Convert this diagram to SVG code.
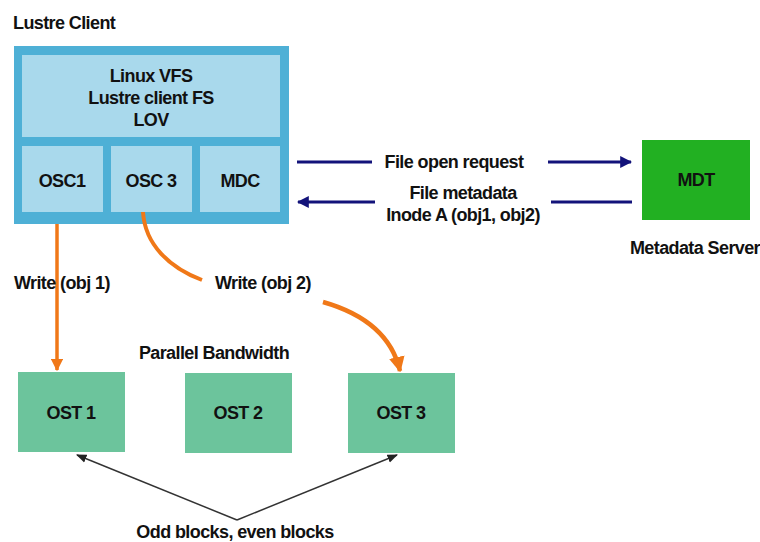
<svg xmlns="http://www.w3.org/2000/svg" width="760" height="542" viewBox="0 0 760 542">
<defs>
<style>
text{font-family:"Liberation Sans",Arial,sans-serif;font-weight:bold;font-size:18px;fill:#111;letter-spacing:-0.6px}
.c{text-anchor:middle}
.inner{fill:#a9d9ec}
.ost{fill:#6cc49c}
</style>
<marker id="navy" viewBox="0 0 10 10" refX="9" refY="5" markerWidth="4" markerHeight="4" orient="auto"><path d="M0,0L10,5L0,10z" fill="#13137a"/></marker>
<marker id="orange" viewBox="0 0 10 10" refX="9" refY="5" markerWidth="3.5" markerHeight="3.5" orient="auto"><path d="M0,0L10,5L0,10z" fill="#f07818"/></marker>
<marker id="black" viewBox="0 0 10 10" refX="9" refY="5" markerWidth="7" markerHeight="7" orient="auto"><path d="M0,1L10,5L0,9z" fill="#222"/></marker>
</defs>
<rect width="760" height="542" fill="#fff"/>
<text x="13" y="29">Lustre Client</text>
<g id="lustre-client">
<rect x="14" y="46" width="275" height="178" fill="#4eb0d6"/>
<rect class="inner" x="22" y="55" width="258" height="82"/>
<text class="c" x="151" y="82">Linux VFS</text>
<text class="c" x="151" y="104">Lustre client FS</text>
<text class="c" x="151" y="126">LOV</text>
</g>
<g id="osc1"><rect class="inner" x="22" y="146" width="81" height="66"/><text class="c" x="62" y="187">OSC1</text></g>
<g id="osc3"><rect class="inner" x="111" y="146" width="81" height="66"/><text class="c" x="151" y="187">OSC 3</text></g>
<g id="mdc"><rect class="inner" x="200" y="146" width="80" height="66"/><text class="c" x="240" y="187">MDC</text></g>
<g id="mdt">
<rect x="642" y="140" width="108" height="80" fill="#22b022"/>
<text class="c" x="696" y="186">MDT</text>
<text class="c" x="695" y="254">Metadata Server</text>
</g>
<g id="ost1"><rect class="ost" x="18" y="372" width="107" height="80"/><text class="c" x="71" y="419">OST 1</text></g>
<g id="ost2"><rect class="ost" x="185" y="373" width="107" height="80"/><text class="c" x="238" y="419">OST 2</text></g>
<g id="ost3"><rect class="ost" x="348" y="373" width="107" height="80"/><text class="c" x="401" y="419">OST 3</text></g>
<g id="connectors" fill="none">
<path d="M297,162H372" stroke="#13137a" stroke-width="3"/>
<path d="M548,162H631" stroke="#13137a" stroke-width="3" marker-end="url(#navy)"/>
<path d="M375,202H298" stroke="#13137a" stroke-width="3" marker-end="url(#navy)"/>
<path d="M632,202H551" stroke="#13137a" stroke-width="3"/>
<path d="M57,224V370" stroke="#f07818" stroke-width="3.5" marker-end="url(#orange)"/>
<path d="M143,212C145,245 170,268 202,280" stroke="#f07818" stroke-width="4"/>
<path d="M323,302C365,314 392,336 400,371" stroke="#f07818" stroke-width="4.5" marker-end="url(#orange)"/>
<path d="M237,520L77,455" stroke="#333" stroke-width="1.5" marker-end="url(#black)"/>
<path d="M237,520L397,455" stroke="#333" stroke-width="1.5" marker-end="url(#black)"/>
</g>
<text class="c" x="454" y="168">File open request</text>
<text class="c" x="463" y="199">File metadata</text>
<text class="c" x="463" y="221">Inode A (obj1, obj2)</text>
<text x="14" y="289">Write (obj 1)</text>
<text x="215" y="289">Write (obj 2)</text>
<text class="c" x="214" y="359">Parallel Bandwidth</text>
<text class="c" x="235" y="538">Odd blocks, even blocks</text>
</svg>
